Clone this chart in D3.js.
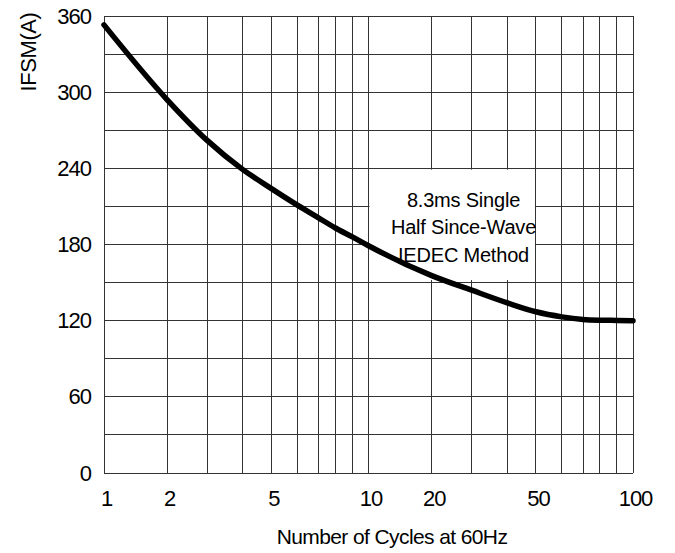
<!DOCTYPE html>
<html>
<head>
<meta charset="utf-8">
<script src="https://cdn.jsdelivr.net/npm/d3@7"></script>
<style>
  body { margin: 0; background: #fff; }
  text { font-family: "Liberation Sans", Arial, sans-serif; fill: #000; }
</style>
</head>
<body>
<script>
// cycles at grid lines and read-off IFSM values
const cycles = [1, 2, 3, 4, 5, 6, 7, 8, 9, 10, 20, 30, 40, 50, 60, 70, 80, 90, 100];
const ifsm = [353, 294, 262, 239, 224, 211, 201, 193, 186, 179, 155.5, 144, 134, 127, 123, 121, 120.4, 120.2, 120];
const xTickLabels = [1, 2, 5, 10, 20, 50, 100];
const yTicks = [0, 60, 120, 180, 240, 300, 360];
const yGrid = d3.range(0, 361, 30);
const noteLines = ["8.3ms Single", "Half Since-Wave", "IEDEC Method"];

window.onload = function () {
  let width = 675;
  let height = 553;
  let margin = { top: 16, bottom: 80, left: 104, right: 42 };
  let innerWidth = width - margin.left - margin.right;
  let innerHeight = height - margin.top - margin.bottom;

  // the chart paper is not a true log grid, each decade is squeezed the same way
  let decade = [0, 0.239, 0.39, 0.525, 0.633, 0.731, 0.811, 0.875, 0.939, 1];
  let xRange = cycles.map((d, i) => {
    let dec = i < 10 ? 0 : 1;
    let f = i < 10 ? decade[i] : decade[i - 9];
    return margin.left + (dec + f) * innerWidth / 2;
  });
  let xScale = d3.scaleLinear().domain(cycles).range(xRange);
  let yScale = d3.scaleLinear().domain([0, 360]).range([margin.top + innerHeight, margin.top]);

  let svg = d3.select("body").append("svg").attr("width", width).attr("height", height);

  // grid
  let grid = svg.append("g").attr("stroke", "#333").attr("stroke-width", 1).attr("shape-rendering", "crispEdges");
  grid.selectAll("line.v").data(cycles).join("line").attr("class", "v")
    .attr("x1", d => xScale(d)).attr("x2", d => xScale(d))
    .attr("y1", yScale(0)).attr("y2", yScale(360));
  grid.selectAll("line.h").data(yGrid).join("line").attr("class", "h")
    .attr("x1", xScale(1)).attr("x2", xScale(100))
    .attr("y1", d => yScale(d)).attr("y2", d => yScale(d));

  // note box hides the grid behind it
  let bx0 = xScale(10) + 1, bx1 = xScale(50) - 1;
  let by0 = yScale(239), by1 = yScale(152);
  svg.append("rect").attr("x", bx0).attr("y", by0)
    .attr("width", bx1 - bx0).attr("height", by1 - by0).attr("fill", "#fff");

  // curve
  let line = d3.line()
    .x((d, i) => xScale(cycles[i]))
    .y(d => yScale(d))
    .curve(d3.curveMonotoneX);
  svg.append("path").attr("d", line(ifsm))
    .attr("fill", "none").attr("stroke", "#000").attr("stroke-width", 5.5)
    .attr("stroke-linecap", "round");

  // note text
  svg.append("g").selectAll("text").data(noteLines).join("text")
    .attr("x", bx0 + 94).attr("y", (d, i) => by0 + 37 + i * 27.5)
    .attr("text-anchor", "middle").attr("font-size", 20).attr("letter-spacing", -0.2)
    .text(d => d);

  // axes labels
  let xAxis = d3.axisBottom(xScale).tickValues(xTickLabels).tickSize(0).tickPadding(17).tickFormat(d => d);
  svg.append("g").attr("transform", `translate(2, ${yScale(0)})`).call(xAxis)
    .call(g => g.select(".domain").remove())
    .call(g => g.selectAll("text").attr("font-size", 22).attr("letter-spacing", -1)
      .attr("font-family", "Liberation Sans, Arial, sans-serif"));

  let yAxis = d3.axisLeft(yScale).tickValues(yTicks).tickSize(0).tickPadding(13);
  svg.append("g").attr("transform", `translate(${margin.left}, 0)`).call(yAxis)
    .call(g => g.select(".domain").remove())
    .call(g => g.selectAll("text").attr("font-size", 22).attr("letter-spacing", -1)
      .attr("font-family", "Liberation Sans, Arial, sans-serif"));

  svg.append("text").attr("x", 392).attr("y", 544).attr("text-anchor", "middle")
    .attr("font-size", 21).attr("letter-spacing", -0.6).text("Number of Cycles at 60Hz");

  svg.append("text").attr("transform", "translate(36, 52) rotate(-90)")
    .attr("text-anchor", "middle").attr("font-size", 22).attr("letter-spacing", -0.4).text("IFSM(A)");
};
</script>
</body>
</html>
